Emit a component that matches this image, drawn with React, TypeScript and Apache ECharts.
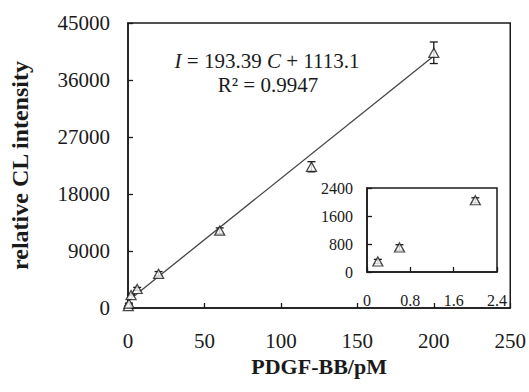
import React, { useEffect, useRef } from "react";
import * as echarts from "echarts";

// Main calibration data (PDGF-BB concentration in pM vs relative CL intensity)
const concentrations = [0.2, 0.6, 2, 6, 20, 60, 120, 200];
const intensities = [300, 700, 2050, 3000, 5400, 12200, 22300, 40300];
const errors = [60, 80, 100, 250, 350, 450, 800, 1700];

// Inset (low concentration) data
const insetConc = [0.2, 0.6, 2.0];
const insetInt = [300, 700, 2050];
const insetErr = [60, 80, 70];

// Linear fit coefficients
const slope = 193.39;
const intercept = 1113.1;
const fitRange = [0, 200];

const FONT = "'Liberation Serif', 'Times New Roman', serif";
const INK = "#1a1a1a";

function errorBarRender(params: any, api: any) {
  const x = api.value(0);
  const y = api.value(1);
  const e = api.value(2);
  const top = api.coord([x, y + e]);
  const bot = api.coord([x, y - e]);
  const hw = 4;
  const style = { stroke: INK, lineWidth: 1.3 };
  return {
    type: "group",
    children: [
      { type: "line", shape: { x1: top[0], y1: top[1], x2: bot[0], y2: bot[1] }, style },
      { type: "line", shape: { x1: top[0] - hw, y1: top[1], x2: top[0] + hw, y2: top[1] }, style },
      { type: "line", shape: { x1: bot[0] - hw, y1: bot[1], x2: bot[0] + hw, y2: bot[1] }, style },
    ],
  };
}

export default function App() {
  const ref = useRef<HTMLDivElement>(null);
  useEffect(() => {
    document.body.style.margin = "0";
    if (!ref.current) return;
    const chart = echarts.init(ref.current, undefined, { renderer: "svg" });
    const mainPts = concentrations.map((c, i) => [c, intensities[i]]);
    const mainErr = concentrations.map((c, i) => [c, intensities[i], errors[i]]);
    const insetPts = insetConc.map((c, i) => [c, insetInt[i]]);
    const insetErrData = insetConc.map((c, i) => [c, insetInt[i], insetErr[i]]);
    const fitData = fitRange.map((x) => [x, slope * x + intercept]);

    const axisLine = { show: true, lineStyle: { color: INK, width: 1.5 } };
    const axisTick = { show: true, inside: true, length: 5, lineStyle: { color: INK, width: 1.3 } };
    const plain = (v: number) => String(Math.round(v * 10) / 10);

    chart.setOption({
      animation: false,
      backgroundColor: "#fff",
      grid: [
        { left: 120, right: 17, top: 23, bottom: 84, show: true, borderColor: INK, borderWidth: 1.5, backgroundColor: "transparent" },
        { left: 367, width: 130, top: 188, height: 84, show: true, borderColor: INK, borderWidth: 1.5, backgroundColor: "#fff" },
      ],
      xAxis: [
        {
          gridIndex: 0,
          type: "value",
          min: 0,
          max: 250,
          interval: 50,
          name: "PDGF-BB/pM",
          nameLocation: "middle",
          nameGap: 44,
          nameTextStyle: { fontFamily: FONT, fontWeight: "bold", fontSize: 22, color: INK },
          axisLine,
          axisTick,
          splitLine: { show: false },
          axisLabel: { margin: 22, fontFamily: FONT, fontSize: 21, color: INK, formatter: plain },
        },
        {
          gridIndex: 1,
          type: "value",
          min: 0,
          max: 2.4,
          interval: 0.8,
          axisLine,
          axisTick,
          splitLine: { show: false },
          axisLabel: { margin: 20, fontFamily: FONT, fontSize: 16, color: INK, formatter: plain },
        },
      ],
      yAxis: [
        {
          gridIndex: 0,
          type: "value",
          min: 0,
          max: 45000,
          interval: 9000,
          name: "relative CL intensity",
          nameLocation: "middle",
          nameGap: 96,
          nameTextStyle: { fontFamily: FONT, fontWeight: "bold", fontSize: 24, color: INK },
          axisLine,
          axisTick,
          splitLine: { show: false },
          axisLabel: { margin: 18, fontFamily: FONT, fontSize: 21, color: INK, formatter: plain },
        },
        {
          gridIndex: 1,
          type: "value",
          min: 0,
          max: 2400,
          interval: 800,
          axisLine,
          axisTick,
          splitLine: { show: false },
          axisLabel: { margin: 14, fontFamily: FONT, fontSize: 16, color: INK, formatter: plain },
        },
      ],
      series: [
        {
          type: "line",
          xAxisIndex: 0,
          yAxisIndex: 0,
          data: fitData,
          showSymbol: false,
          symbol: "none",
          lineStyle: { color: "#444", width: 1.3 },
          silent: true,
        },
        {
          type: "custom",
          xAxisIndex: 0,
          yAxisIndex: 0,
          data: mainErr,
          renderItem: errorBarRender,
          silent: true,
          z: 3,
        },
        {
          type: "scatter",
          xAxisIndex: 0,
          yAxisIndex: 0,
          data: mainPts,
          symbol: "triangle",
          symbolSize: [10, 9],
          itemStyle: { color: "#fff", borderColor: INK, borderWidth: 1.3 },
          z: 4,
        },
        {
          type: "custom",
          xAxisIndex: 1,
          yAxisIndex: 1,
          data: insetErrData,
          renderItem: errorBarRender,
          silent: true,
          z: 3,
        },
        {
          type: "scatter",
          xAxisIndex: 1,
          yAxisIndex: 1,
          data: insetPts,
          symbol: "triangle",
          symbolSize: [10, 9],
          itemStyle: { color: "#fff", borderColor: INK, borderWidth: 1.3 },
          z: 4,
        },
      ],
      graphic: [
        {
          type: "text",
          x: 267,
          y: 61,
          style: {
            text: "{i|I} = 193.39 {i|C} + 1113.1",
            rich: {
              i: { fontStyle: "italic", fontFamily: FONT, fontSize: 21, fill: INK },
            },
            fontFamily: FONT,
            fontSize: 21,
            fill: INK,
            align: "center",
            verticalAlign: "middle",
          },
        },
        {
          type: "text",
          x: 268,
          y: 85,
          style: {
            text: "R² = 0.9947",
            fontFamily: FONT,
            fontSize: 21,
            fill: INK,
            align: "center",
            verticalAlign: "middle",
          },
        },
      ],
    });
    return () => chart.dispose();
  }, []);
  return <div ref={ref} style={{ width: 529, height: 392 }} />;
}
